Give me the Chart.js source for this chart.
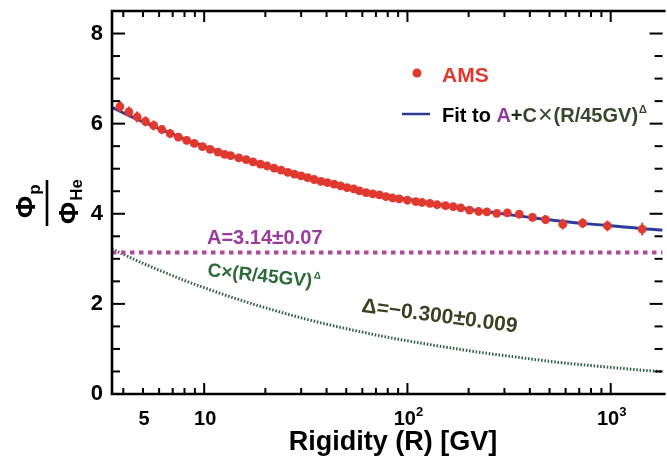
<!DOCTYPE html>
<html>
<head>
<meta charset="utf-8">
<script src="https://cdn.jsdelivr.net/npm/chart.js@4/dist/chart.umd.min.js"></script>
<style>
  html, body { margin: 0; padding: 0; background: #fff; }
  #wrap { width: 667px; height: 457px; }
</style>
</head>
<body>
<div id="wrap"><canvas id="ratioChart" width="667" height="457"></canvas></div>
<script>
// AMS p/He flux ratio vs rigidity
const amsRigidity = [3.85, 4.26, 4.68, 5.14, 5.64, 6.19, 6.80, 7.47, 8.20, 8.94,
  9.81, 10.7, 11.7, 12.6, 13.5, 14.8, 16.1, 17.4, 18.9, 20.4,
  22.1, 23.9, 25.8, 27.8, 30.0, 32.3, 34.8, 37.5, 40.4, 43.6,
  46.9, 50.5, 54.4, 58.1, 62.6, 67.5, 72.8, 78.4, 84.5, 91.1,
  100, 110, 118, 129, 140, 154, 168, 183, 202, 224,
  246, 275, 310, 355, 412, 478, 581, 728, 964, 1428];
const amsRatio = [6.38, 6.26, 6.15, 6.05, 5.96, 5.87, 5.78, 5.70, 5.63, 5.56,
  5.49, 5.43, 5.37, 5.32, 5.29, 5.24, 5.20, 5.15, 5.10, 5.06,
  5.01, 4.97, 4.92, 4.88, 4.84, 4.80, 4.76, 4.72, 4.69, 4.66,
  4.62, 4.58, 4.55, 4.51, 4.47, 4.44, 4.42, 4.38, 4.35, 4.33,
  4.30, 4.27, 4.25, 4.23, 4.20, 4.18, 4.16, 4.13, 4.08, 4.05,
  4.04, 4.01, 4.02, 3.99, 3.92, 3.87, 3.77, 3.79, 3.73, 3.66];
const amsError = [0.13, 0.12, 0.12, 0.11, 0.11, 0.10, 0.10, 0.09, 0.09, 0.08,
  0.08, 0.08, 0.07, 0.07, 0.07, 0.07, 0.06, 0.06, 0.06, 0.06,
  0.06, 0.06, 0.06, 0.06, 0.06, 0.06, 0.06, 0.06, 0.06, 0.06,
  0.06, 0.06, 0.06, 0.06, 0.06, 0.06, 0.06, 0.06, 0.06, 0.06,
  0.06, 0.06, 0.07, 0.07, 0.07, 0.07, 0.08, 0.08, 0.08, 0.08,
  0.08, 0.08, 0.09, 0.09, 0.09, 0.10, 0.12, 0.11, 0.12, 0.14];

// fit curve A + C x (R/45GV)^Delta and its power-law part
const fitRigidity = [3.52, 4, 5, 6, 8, 10, 13, 17, 22, 30, 40, 55, 70, 100,
  140, 200, 280, 400, 560, 800, 1100, 1500, 1800];
const fitRatio = [6.36, 6.24, 6.04, 5.89, 5.66, 5.50, 5.32, 5.15, 5.00, 4.83, 4.69, 4.55, 4.45, 4.32,
  4.21, 4.10, 4.01, 3.92, 3.84, 3.77, 3.72, 3.66, 3.64];
const powerTerm = [3.22, 3.10, 2.90, 2.75, 2.52, 2.36, 2.18, 2.01, 1.86, 1.69, 1.55, 1.41, 1.31, 1.18,
  1.07, 0.96, 0.87, 0.78, 0.70, 0.63, 0.575, 0.52, 0.50];
const constRigidity = [3.52, 1800];
const constA = [3.14, 3.14];

const xTicks = [5, 10, 100, 1000];
const xTickBase = ['5', '10', '10', '10'];
const xTickExp = ['', '', '2', '3'];
const yTicks = [0, 2, 4, 6, 8];

const FONT = "'Liberation Sans', Arial, Helvetica, sans-serif";
const RED = '#e2392f';
const BLUE = '#2b3c9c';
const MAGENTA = '#b04a9e';
const GREEN = '#2e5e3e';

const toXY = (xs, ys) => xs.map((v, i) => ({ x: v, y: ys[i] }));

// vertical error bars under the AMS points
const errorBars = {
  id: 'errorBars',
  beforeDatasetDraw(chart, args) {
    if (args.index !== 0) return;
    const { ctx, scales: { x, y } } = chart;
    ctx.save();
    ctx.strokeStyle = RED;
    ctx.lineWidth = 2;
    amsRigidity.forEach((r, i) => {
      const px = x.getPixelForValue(r);
      ctx.beginPath();
      ctx.moveTo(px, y.getPixelForValue(amsRatio[i] - amsError[i]));
      ctx.lineTo(px, y.getPixelForValue(amsRatio[i] + amsError[i]));
      ctx.stroke();
    });
    ctx.restore();
  }
};

// box frame with inward ticks
const frame = {
  id: 'frame',
  afterDatasetsDraw(chart) {
    const { ctx, chartArea: a, scales: { x, y } } = chart;
    const seg = (x1, y1, x2, y2) => { ctx.beginPath(); ctx.moveTo(x1, y1); ctx.lineTo(x2, y2); ctx.stroke(); };
    ctx.save();
    ctx.strokeStyle = '#000';
    ctx.lineWidth = 2.6;
    ctx.beginPath();
    ctx.moveTo(a.right + 3, a.top);
    ctx.lineTo(a.left, a.top);
    ctx.lineTo(a.left, a.bottom);
    ctx.lineTo(a.right + 3, a.bottom);
    ctx.stroke();
    ctx.lineWidth = 2;
    for (let d = 1; d <= 1000; d *= 10) {
      for (let m = 1; m <= 9; m++) {
        const v = d * m;
        if (v < x.min || v > x.max) continue;
        const px = x.getPixelForValue(v);
        const len = m === 1 ? 11 : 6;
        seg(px, a.bottom, px, a.bottom - len);
        seg(px, a.top, px, a.top + len);
      }
    }
    for (let v = 0; v <= 8.5; v += 0.5) {
      const py = y.getPixelForValue(v);
      const len = v % 2 === 0 ? 13 : 8;
      seg(a.left, py, a.left + len, py);
      seg(a.right, py, a.right - len, py);
    }
    ctx.restore();
  }
};

function runsWidth(ctx, runs) {
  return runs.reduce((w, r) => { ctx.font = r.font; return w + ctx.measureText(r.text).width + (r.gap || 0); }, 0);
}

function drawRuns(ctx, x, y, runs) {
  runs.forEach(r => {
    ctx.font = r.font;
    ctx.fillStyle = r.color;
    ctx.fillText(r.text, x, y + (r.dy || 0));
    x += ctx.measureText(r.text).width + (r.gap || 0);
  });
}

// titles, tick labels, legend and annotations
const labels = {
  id: 'labels',
  afterDraw(chart) {
    const { ctx, scales: { x } } = chart;
    ctx.save();
    ctx.textBaseline = 'alphabetic';
    ctx.textAlign = 'left';

    // x tick labels with exponents
    xTicks.forEach((v, i) => {
      const runs = [{ text: xTickBase[i], font: `bold 20px ${FONT}`, color: '#000' }];
      if (xTickExp[i]) runs.push({ text: xTickExp[i], font: `bold 13px ${FONT}`, color: '#000', dy: -9 });
      const w = runsWidth(ctx, runs);
      drawRuns(ctx, x.getPixelForValue(v) - w / 2 + 1, 425, runs);
    });

    // y title: Phi_p / Phi_He
    ctx.save();
    ctx.translate(47, 203);
    ctx.rotate(-Math.PI / 2);
    ctx.fillStyle = '#000';
    ctx.fillRect(-23, -1.3, 46, 2.6);
    drawRuns(ctx, -15, -12, [
      { text: 'Φ', font: `bold 27px ${FONT}`, color: '#000', gap: 1 },
      { text: 'p', font: `bold 17px ${FONT}`, color: '#000', dy: 5 }
    ]);
    drawRuns(ctx, -21, 31, [
      { text: 'Φ', font: `bold 27px ${FONT}`, color: '#000', gap: 1 },
      { text: 'He', font: `bold 17px ${FONT}`, color: '#000', dy: 4 }
    ]);
    ctx.restore();

    // x title
    ctx.font = `bold 27px ${FONT}`;
    ctx.fillStyle = '#000';
    ctx.textAlign = 'center';
    ctx.fillText('Rigidity (R) [GV]', 393, 450);
    ctx.textAlign = 'left';

    // legend
    ctx.fillStyle = RED;
    ctx.beginPath();
    ctx.arc(417, 73, 4.5, 0, Math.PI * 2);
    ctx.fill();
    ctx.font = `bold 21px ${FONT}`;
    ctx.fillText('AMS', 442, 82);

    ctx.strokeStyle = BLUE;
    ctx.lineWidth = 2.5;
    ctx.beginPath();
    ctx.moveTo(402, 114);
    ctx.lineTo(430, 114);
    ctx.stroke();
    drawRuns(ctx, 442, 121.5, [
      { text: 'Fit to ', font: `bold 20px ${FONT}`, color: '#000' },
      { text: 'A', font: `bold 20px ${FONT}`, color: '#8e3a9c' },
      { text: '+', font: `bold 20px ${FONT}`, color: '#1e2a18' },
      { text: 'C', font: `bold 20px ${FONT}`, color: '#36482c', gap: 1 },
      { text: '×', font: `25px ${FONT}`, color: '#36482c', dy: 1, gap: 1 },
      { text: '(R/45GV)', font: `bold 20px ${FONT}`, color: '#36482c', gap: 1 },
      { text: 'Δ', font: `bold 11px ${FONT}`, color: '#36482c', dy: -9 }
    ]);

    // A constant
    drawRuns(ctx, 207, 244, [
      { text: 'A=3.14', font: `bold 20px ${FONT}`, color: '#9a3ba0' },
      { text: '±', font: `bold 21px ${FONT}`, color: '#9a3ba0' },
      { text: '0.07', font: `bold 20px ${FONT}`, color: '#9a3ba0' }
    ]);

    // power-law term label
    ctx.save();
    ctx.translate(207, 276);
    ctx.rotate(6 * Math.PI / 180);
    drawRuns(ctx, 0, 0, [
      { text: 'C×(R/45GV)', font: `bold 19px ${FONT}`, color: '#2c6a3a', gap: 1 },
      { text: 'Δ', font: `bold 10px ${FONT}`, color: '#2c6a3a', dy: -9 }
    ]);
    ctx.restore();

    // Delta label
    ctx.save();
    ctx.translate(361, 312);
    ctx.rotate(7.5 * Math.PI / 180);
    drawRuns(ctx, 0, 0, [
      { text: 'Δ=−0.300', font: `bold 21px ${FONT}`, color: '#3b4221' },
      { text: '±', font: `bold 22px ${FONT}`, color: '#3b4221' },
      { text: '0.009', font: `bold 21px ${FONT}`, color: '#3b4221' }
    ]);
    ctx.restore();

    ctx.restore();
  }
};

const ctx = document.getElementById('ratioChart').getContext('2d');
new Chart(ctx, {
  type: 'scatter',
  data: {
    datasets: [
      {
        label: 'AMS',
        data: toXY(amsRigidity, amsRatio),
        backgroundColor: RED,
        borderWidth: 0,
        pointRadius: 4.4,
        order: 0
      },
      {
        label: 'Fit',
        type: 'line',
        data: toXY(fitRigidity, fitRatio),
        borderColor: BLUE,
        borderWidth: 3,
        pointRadius: 0,
        cubicInterpolationMode: 'monotone',
        order: 1
      },
      {
        label: 'A',
        type: 'line',
        data: toXY(constRigidity, constA),
        borderColor: MAGENTA,
        borderWidth: 4,
        borderDash: [4.5, 4.5],
        pointRadius: 0,
        order: 2
      },
      {
        label: 'C term',
        type: 'line',
        data: toXY(fitRigidity, powerTerm),
        borderColor: GREEN,
        borderWidth: 3,
        borderDash: [1.5, 1.8],
        pointRadius: 0,
        cubicInterpolationMode: 'monotone',
        order: 3
      }
    ]
  },
  options: {
    responsive: false,
    animation: false,
    devicePixelRatio: 1,
    layout: { padding: { top: 11, right: 0, left: 0, bottom: 0 } },
    plugins: { legend: { display: false }, tooltip: { enabled: false } },
    scales: {
      x: {
        type: 'logarithmic',
        min: 3.52,
        max: 1800,
        grid: { display: false, drawTicks: false },
        border: { display: false },
        afterBuildTicks: s => { s.ticks = xTicks.map(v => ({ value: v })); },
        afterFit: s => { s.height = 63; s.paddingLeft = 0; s.paddingRight = 0; },
        ticks: { display: false }
      },
      y: {
        min: 0,
        max: 8.5,
        grid: { display: false, drawTicks: false },
        border: { display: false },
        afterBuildTicks: s => { s.ticks = yTicks.map(v => ({ value: v })); },
        afterFit: s => { s.width = 112; s.paddingTop = 0; s.paddingBottom = 0; },
        ticks: {
          padding: 9,
          color: '#000',
          font: { family: FONT, size: 22, weight: 'bold' }
        }
      }
    }
  },
  plugins: [errorBars, frame, labels]
});
</script>
</body>
</html>
